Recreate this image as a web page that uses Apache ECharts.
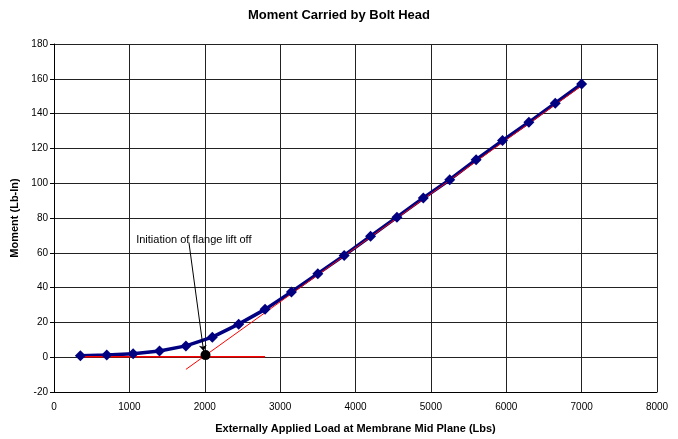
<!DOCTYPE html>
<html>
<head>
<meta charset="utf-8">
<script src="https://cdn.jsdelivr.net/npm/echarts@6/dist/echarts.min.js"></script>
<style>
  html, body { margin: 0; padding: 0; background: #fff; }
  #chart { width: 678px; height: 439px; }
</style>
</head>
<body>
<div id="chart"></div>
<script>
// load values (Lbs) and moment (Lb-In)
var loads = [350, 700, 1050, 1400, 1750, 2100, 2450, 2800, 3150, 3500,
             3850, 4200, 4550, 4900, 5250, 5600, 5950, 6300, 6650, 7000];
var moments = [0.8, 1.2, 2, 3.6, 6.5, 11.5, 19, 27.5, 37.5, 48,
               58.5, 69.5, 80.5, 91.5, 102, 113.5, 124.5, 135, 146, 157];

// red construction lines
var baseLine = [[350, 0.3], [2800, 0.3]];
var tangentLine = [[1750, -7], [7000, 156]];

// lift off point + annotation
var liftOffPoint = [[2010, 1.2]];
var arrowLine = [[1790, 66], [1985, 3.5]];
var noteAt = [[1090, 67.5]];
var noteText = 'Initiation of flange lift off';

var pts = loads.map(function (x, i) { return [x, moments[i]]; });

var chart = echarts.init(document.getElementById('chart'));
var font = 'Liberation Sans, Arial, sans-serif';

chart.setOption({
  animation: false,
  title: {
    text: 'Moment Carried by Bolt Head',
    left: 'center',
    top: 4,
    textStyle: { fontFamily: font, fontSize: 13, fontWeight: 'bold', color: '#000' }
  },
  grid: { left: 54, right: 21, top: 44, bottom: 46 },
  xAxis: {
    type: 'value',
    min: 0, max: 8000, interval: 1000,
    name: 'Externally Applied Load at Membrane Mid Plane (Lbs)',
    nameLocation: 'middle',
    nameGap: 31,
    nameTextStyle: { fontFamily: font, fontSize: 11, fontWeight: 'bold', color: '#000' },
    axisLine: { onZero: false, lineStyle: { color: '#000' } },
    axisTick: { show: false },
    axisLabel: {
      fontFamily: font, fontSize: 10, color: '#000', margin: 10,
      formatter: function (v) { return String(v); }
    },
    splitLine: { lineStyle: { color: '#222', width: 1 } }
  },
  yAxis: {
    type: 'value',
    min: -20, max: 180, interval: 20,
    name: 'Moment (Lb-In)',
    nameLocation: 'middle',
    nameGap: 33,
    nameTextStyle: { fontFamily: font, fontSize: 11, fontWeight: 'bold', color: '#000' },
    axisLine: { show: true, lineStyle: { color: '#000' } },
    axisTick: { show: true, length: 4, lineStyle: { color: '#000' } },
    axisLabel: { fontFamily: font, fontSize: 10, color: '#000', margin: 6 },
    splitLine: { lineStyle: { color: '#222', width: 1 } }
  },
  series: [
    {
      type: 'line',
      data: pts,
      showSymbol: false,
      lineStyle: { color: '#000080', width: 3.5 },
      z: 2
    },
    {
      type: 'line',
      data: baseLine,
      showSymbol: false,
      lineStyle: { color: '#ff0000', width: 1.5 },
      z: 3
    },
    {
      type: 'line',
      data: tangentLine,
      showSymbol: false,
      lineStyle: { color: '#ff0000', width: 1 },
      z: 3
    },
    {
      type: 'scatter',
      data: pts,
      symbol: 'diamond',
      symbolSize: 11,
      itemStyle: { color: '#000080', opacity: 1 },
      z: 4
    },
    {
      type: 'scatter',
      data: liftOffPoint,
      symbolSize: 10,
      itemStyle: { color: '#000', opacity: 1 },
      z: 5
    },
    {
      type: 'lines',
      coordinateSystem: 'cartesian2d',
      data: [{ coords: arrowLine }],
      symbol: ['none', 'arrow'],
      symbolSize: 6,
      lineStyle: { color: '#000', width: 1, opacity: 1 },
      z: 5
    },
    {
      type: 'scatter',
      data: noteAt,
      symbolSize: 0,
      itemStyle: { opacity: 1 },
      label: {
        show: true,
        position: 'right',
        distance: 0,
        formatter: noteText,
        fontFamily: font,
        fontSize: 11,
        color: '#000'
      },
      z: 6
    }
  ]
});
</script>
</body>
</html>
